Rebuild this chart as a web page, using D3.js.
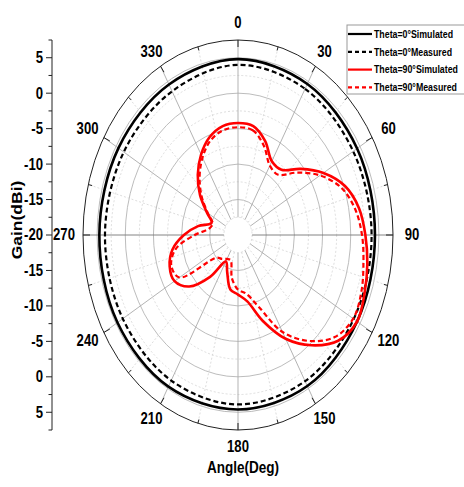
<!DOCTYPE html>
<html><head><meta charset="utf-8">
<script src="https://cdn.jsdelivr.net/npm/d3@7"></script>
<style>html,body{margin:0;padding:0;background:#fff;overflow:hidden}</style>
</head><body>
<script>
// ---- data ----
const blackAngles = [0,30,60,90,120,150,180,210,240,270,300,330];
const theta0Sim  = [4.8,4.6,4.4,4.3,4.4,4.6,4.6,4.7,4.7,4.6,4.5,4.5];
const theta0Meas = [4.0,3.8,3.6,3.7,3.7,3.8,3.9,3.7,3.6,3.6,3.4,3.4];
const redAngles = [0,10,20,30,40,50,60,70,80,90,100,110,120,130,140,150,160,170,180,190,200,210,220,230,240,250,260,270,280,290,300,310,320,330,340,350];
const theta90Sim  = [-4.2,-4.4,-5.9,-8.0,-8.0,-5.5,-2.5,0.2,1.8,2.6,3.3,3.9,4.4,3.2,0.3,-3.1,-7.1,-10.5,-11.6,-12.2,-14.4,-15.7,-12.3,-8.7,-7.0,-7.1,-8.2,-10.4,-12.8,-15.0,-13.6,-11.2,-8.9,-6.9,-5.3,-4.4];
const theta90Meas = [-4.8,-5.0,-6.6,-8.7,-8.9,-6.3,-3.2,-0.5,1.1,2.0,2.6,3.3,3.6,2.4,-0.5,-4.2,-9.2,-11.6,-12.3,-13.8,-16.2,-16.1,-15.6,-15.0,-8.0,-7.4,-8.8,-12.3,-14.8,-15.2,-13.8,-11.6,-9.4,-7.4,-5.8,-5.0];
const angleTicks = [0,30,60,90,120,150,180,210,240,270,300,330];
const gainTicks = [-25,-20,-15,-10,-5,0,5,10,15,20,25];
const legendLabels = ["Theta=0°Simulated","Theta=0°Measured","Theta=90°Simulated","Theta=90°Measured"];

// ---- layout ----
const W = 464, H = 487;
const cx = 238, cy = 235, Rx = 155, Ry = 195;
const rMin = -20, rMax = 7.5;
const r = d3.scaleLinear().domain([rMin, rMax]).range([0, 1]);
const px = (a, v) => cx + r(v) * Rx * Math.sin(a * Math.PI / 180);
const py = (a, v) => cy - r(v) * Ry * Math.cos(a * Math.PI / 180);

const svg = d3.select("body").append("svg").attr("width", W).attr("height", H)
  .style("font-family", "'Liberation Sans', Arial, sans-serif").style("font-weight", "bold");

function txt(x, y, s, size, sx, anchor) {
  return svg.append("text")
    .attr("transform", `translate(${x},${y}) scale(${sx},1)`)
    .attr("text-anchor", anchor || "middle").attr("dominant-baseline", "central")
    .attr("font-size", size).attr("fill", "#000").text(s);
}

// grid ellipses
const g = svg.append("g");
[-17.5,-12.5,-7.5,-2.5,2.5].forEach(v => g.append("ellipse").attr("cx", cx).attr("cy", cy)
  .attr("rx", r(v) * Rx).attr("ry", r(v) * Ry).attr("fill", "none")
  .attr("stroke", "#d4d4d4").attr("stroke-width", 0.8).attr("stroke-dasharray", "2,2"));
[-15,-10,-5,0,5].forEach(v => g.append("ellipse").attr("cx", cx).attr("cy", cy)
  .attr("rx", r(v) * Rx).attr("ry", r(v) * Ry).attr("fill", "none")
  .attr("stroke", "#b4b4b4").attr("stroke-width", 0.9));
// radial lines
d3.range(0, 360, 15).forEach(a => {
  const major = a % 30 === 0;
  g.append("line").attr("x1", px(a, -17.5)).attr("y1", py(a, -17.5))
    .attr("x2", px(a, rMax)).attr("y2", py(a, rMax))
    .attr("stroke", major ? (a % 90 === 0 && a % 180 !== 0 ? "#777" : "#aaa") : "#d4d4d4")
    .attr("stroke-width", major ? 0.9 : 0.8)
    .attr("stroke-dasharray", major ? null : "2,2");
});
// outer ellipse
g.append("ellipse").attr("cx", cx).attr("cy", cy).attr("rx", Rx).attr("ry", Ry)
  .attr("fill", "none").attr("stroke", "#222").attr("stroke-width", 1);
// outer ticks
d3.range(0, 360, 15).forEach(a => {
  const len = a % 30 === 0 ? 7 : 4;
  const ux = Math.sin(a * Math.PI / 180), uy = -Math.cos(a * Math.PI / 180);
  g.append("line").attr("x1", px(a, rMax)).attr("y1", py(a, rMax))
    .attr("x2", px(a, rMax) - ux * len).attr("y2", py(a, rMax) - uy * len)
    .attr("stroke", "#222").attr("stroke-width", 1);
});
// angle labels
angleTicks.forEach(a => {
  const ux = Math.sin(a * Math.PI / 180), uy = -Math.cos(a * Math.PI / 180);
  const off = 17;
  txt(px(a, rMax) + ux * (off + 2 * Math.abs(ux)), py(a, rMax) + uy * off, String(a), 16, 0.82);
});

// curves
const line = d3.line().curve(d3.curveCatmullRomClosed.alpha(0.5));
function curve(angles, vals, color, dash, w) {
  const pts = angles.map((a, i) => [px(a, vals[i]), py(a, vals[i])]);
  svg.append("path").attr("d", line(pts)).attr("fill", "none")
    .attr("stroke", color).attr("stroke-width", w).attr("stroke-dasharray", dash);
}
curve(blackAngles, theta0Sim, "#000", null, 2.6);
curve(blackAngles, theta0Meas, "#000", "5,3", 2.2);
curve(redAngles, theta90Sim, "#ff0000", null, 2.6);
curve(redAngles, theta90Meas, "#ff0000", "5,3", 2.2);

// gain axis
const gy = d3.scaleLinear().domain([-27.5, 27.5]).range([cy + Ry, cy - Ry]);
const ax = svg.append("g").attr("transform", "translate(52,0)");
ax.append("line").attr("x1", 0).attr("x2", 0).attr("y1", gy(27.5)).attr("y2", gy(-27.5))
  .attr("stroke", "#222").attr("stroke-width", 1);
d3.range(-27.5, 27.6, 2.5).forEach(v => {
  const major = Math.abs(v % 5) < 1e-6;
  ax.append("line").attr("x1", major ? -6 : -3.5).attr("x2", 0)
    .attr("y1", gy(v)).attr("y2", gy(v)).attr("stroke", "#222").attr("stroke-width", 1);
});
gainTicks.forEach(v => txt(43, gy(v), String(Math.abs(v) + rMin), 16, 0.82, "end"));

// axis titles
svg.append("text").attr("transform", "translate(17,220) rotate(-90) scale(1,0.82)")
  .attr("text-anchor", "middle").attr("dominant-baseline", "central")
  .attr("font-size", 17.5).text("Gain(dBi)");
txt(243, 467, "Angle(Deg)", 16.5, 0.82);

// legend
const lg = svg.append("g");
lg.append("rect").attr("x", 347).attr("y", 25).attr("width", 130).attr("height", 69)
  .attr("fill", "#fff").attr("stroke", "#999").attr("stroke-width", 1);
const lstyles = [["#000", null], ["#000", "4,3"], ["#ff0000", null], ["#ff0000", "4,3"]];
legendLabels.forEach((s, i) => {
  const y = 34 + i * 17.8;
  lg.append("line").attr("x1", 348).attr("x2", 372).attr("y1", y).attr("y2", y)
    .attr("stroke", lstyles[i][0]).attr("stroke-width", 2.2).attr("stroke-dasharray", lstyles[i][1]);
  lg.append("text").attr("transform", `translate(374,${y}) scale(0.8,1)`)
    .attr("dominant-baseline", "central").attr("font-size", 11).text(s);
});
</script>
</body></html>
